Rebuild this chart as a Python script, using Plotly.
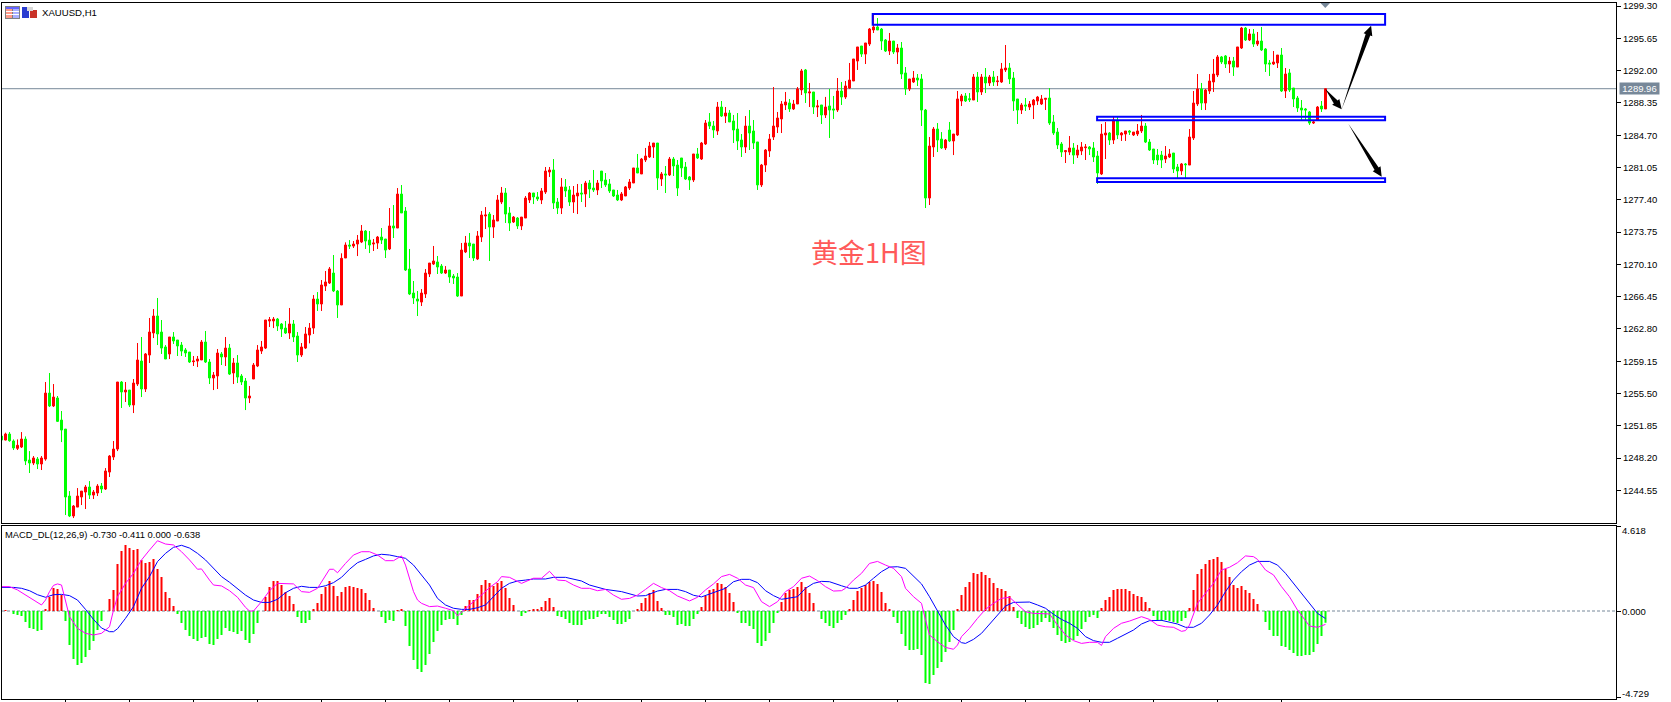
import plotly.graph_objects as go

W, H = 1671, 702
SYMBOL = "XAUUSD,H1"
MACD_LABEL = "MACD_DL(12,26,9) -0.730 -0.411 0.000 -0.638"
CHART_NOTE = "黄金1H图"
LAST_PRICE = 1289.96

opens = [
1250.69,1250.24,1250.92,1250.13,1249.30,1249.45,1250.35,1247.98,1247.64,1248.09,
1247.53,1248.09,1255.55,1254.09,1254.99,1252.50,1251.48,1243.91,1241.65,1242.66,
1243.80,1244.36,1244.93,1244.02,1244.25,1245.04,1244.70,1246.62,1248.32,1249.22,
1256.80,1255.67,1255.89,1254.20,1256.57,1259.17,1256.01,1259.85,1262.34,1264.26,
1262.45,1260.76,1259.97,1261.89,1261.55,1260.98,1260.42,1260.19,1259.10,1259.17,
1259.29,1261.32,1259.06,1257.25,1257.48,1259.97,1259.63,1260.64,1257.82,1258.95,
1257.48,1256.91,1254.99,1257.14,1258.61,1260.30,1260.64,1263.70,1263.70,1263.92,
1263.36,1262.90,1262.34,1263.36,1262.00,1259.85,1260.64,1262.11,1262.90,1266.18,
1265.62,1267.65,1267.99,1269.12,1267.09,1265.51,1270.82,1272.29,1272.17,1272.40,
1272.63,1273.87,1272.85,1272.40,1272.51,1273.19,1272.97,1271.84,1274.44,1274.21,
1278.05,1276.13,1269.57,1266.86,1266.18,1265.84,1266.75,1269.01,1270.14,1270.37,
1269.91,1269.12,1269.46,1268.78,1268.67,1266.52,1271.50,1272.52,1272.40,1270.71,
1273.19,1275.57,1275.79,1274.32,1275.00,1277.15,1278.17,1275.91,1274.89,1275.34,
1274.44,1275.34,1277.38,1278.17,1277.72,1277.38,1278.28,1280.54,1280.77,1277.15,
1276.47,1278.85,1278.51,1277.15,1277.83,1278.17,1278.06,1279.30,1278.73,1278.51,
1280.65,1279.64,1279.19,1278.51,1277.94,1277.38,1277.83,1278.73,1279.30,1281.00,
1280.32,1281.90,1282.24,1283.37,1283.82,1279.75,1280.32,1280.21,1282.01,1281.33,
1282.13,1281.11,1279.98,1279.64,1282.58,1282.01,1283.71,1286.20,1285.74,1285.18,
1287.89,1286.87,1287.21,1286.31,1285.40,1284.16,1283.37,1285.74,1285.18,1283.94,
1279.08,1281.33,1282.92,1284.50,1285.63,1286.54,1288.12,1288.35,1287.67,1288.23,
1289.82,1292.08,1289.48,1289.59,1287.89,1288.12,1286.99,1288.01,1287.67,1287.55,
1289.70,1289.02,1290.04,1290.83,1293.09,1294.79,1293.88,1295.01,1296.60,1296.94,
1296.71,1295.47,1294.22,1295.35,1294.11,1294.56,1291.74,1289.93,1290.72,1291.17,
1291.06,1287.55,1277.60,1283.37,1285.40,1284.27,1283.26,1285.29,1284.05,1284.73,
1288.57,1289.14,1288.83,1288.68,1291.28,1289.59,1291.28,1290.61,1291.28,1290.76,
1290.72,1292.08,1292.30,1291.17,1288.80,1287.55,1288.12,1287.89,1288.12,1288.57,
1288.23,1288.76,1288.91,1286.20,1285.06,1283.71,1282.84,1282.80,1283.26,1282.46,
1282.92,1283.29,1283.37,1283.26,1282.35,1280.32,1284.73,1284.95,1284.16,1286.31,
1284.73,1284.84,1285.18,1284.73,1284.84,1285.18,1285.74,1283.93,1283.14,1282.46,
1282.46,1282.01,1282.24,1282.69,1281.11,1280.66,1281.45,1281.33,1284.39,1288.23,
1289.93,1288.34,1289.70,1290.72,1291.51,1293.55,1293.66,1292.75,1293.09,1292.41,
1294.56,1296.82,1295.47,1296.15,1295.01,1295.35,1294.45,1292.87,1292.75,1292.87,
1293.77,1289.70,1291.74,1290.04,1288.91,1287.78,1287.67,1287.33,1286.08,1286.42,
1288.00,1287.67]

highs = [
1250.76,1251.07,1251.14,1250.31,1250.31,1251.14,1250.65,1248.99,1248.43,1248.32,
1248.43,1256.80,1257.82,1256.57,1255.22,1253.52,1251.48,1244.47,1242.89,1244.81,
1244.47,1245.15,1245.60,1244.59,1245.26,1245.38,1247.07,1248.54,1250.13,1256.80,
1256.91,1256.80,1255.89,1257.14,1261.21,1261.89,1260.08,1264.04,1265.05,1266.30,
1263.81,1260.98,1261.89,1262.45,1261.55,1261.32,1260.64,1260.19,1259.74,1259.74,
1261.55,1262.57,1259.40,1257.93,1260.53,1260.19,1261.89,1261.10,1259.51,1259.85,
1257.70,1257.25,1256.35,1258.95,1260.98,1261.44,1263.81,1264.15,1264.15,1264.04,
1263.47,1263.70,1265.17,1263.81,1262.45,1261.21,1263.02,1263.47,1266.63,1266.97,
1268.33,1269.35,1269.80,1271.16,1267.20,1271.35,1272.59,1272.85,1272.74,1273.42,
1274.55,1273.98,1273.87,1272.97,1273.31,1274.21,1272.97,1276.47,1276.81,1278.73,
1279.07,1276.58,1271.84,1268.22,1267.09,1267.31,1269.57,1270.25,1272.18,1271.05,
1270.14,1269.91,1269.46,1269.01,1269.12,1272.52,1273.31,1273.65,1272.40,1273.87,
1276.13,1276.58,1276.02,1275.68,1277.94,1278.85,1278.73,1276.58,1275.57,1275.45,
1275.45,1277.83,1278.28,1278.17,1278.28,1278.73,1281.11,1281.11,1282.01,1277.60,
1279.86,1279.75,1278.96,1278.96,1279.19,1279.19,1279.53,1279.64,1280.77,1279.64,
1280.65,1280.43,1279.75,1278.51,1278.51,1278.28,1278.96,1279.75,1281.00,1282.58,
1282.13,1283.26,1283.94,1283.82,1283.82,1280.54,1281.22,1282.24,1282.24,1281.90,
1282.13,1281.67,1280.09,1282.58,1283.26,1283.94,1286.42,1287.21,1286.31,1288.46,
1288.57,1287.89,1287.55,1286.99,1287.21,1284.84,1286.87,1287.55,1286.42,1283.94,
1281.45,1283.14,1284.84,1290.15,1287.33,1288.57,1289.59,1288.80,1288.69,1290.15,
1292.19,1292.19,1290.61,1289.59,1288.69,1288.12,1289.03,1289.93,1289.14,1291.17,
1290.72,1290.83,1292.87,1293.32,1294.68,1294.79,1295.13,1296.82,1298.41,1297.95,
1296.82,1295.58,1296.26,1295.35,1295.01,1295.24,1292.41,1291.06,1291.96,1291.62,
1291.62,1287.67,1284.50,1285.63,1286.08,1285.06,1284.27,1286.20,1284.84,1289.70,
1289.36,1289.47,1289.47,1291.62,1291.85,1291.62,1292.30,1291.51,1291.96,1291.40,
1292.87,1294.90,1292.87,1291.85,1288.80,1288.34,1288.91,1288.57,1288.80,1289.14,
1289.25,1288.91,1290.04,1286.99,1285.52,1283.93,1283.03,1284.61,1283.82,1283.60,
1283.93,1283.71,1283.48,1283.93,1282.92,1285.97,1286.20,1285.06,1286.87,1286.76,
1285.06,1285.18,1285.29,1285.06,1285.97,1286.99,1286.08,1284.27,1283.14,1283.14,
1282.92,1283.48,1283.14,1282.69,1281.45,1281.56,1281.56,1285.40,1289.70,1291.62,
1290.61,1289.93,1291.62,1293.32,1293.77,1293.66,1293.77,1293.55,1293.55,1294.68,
1296.94,1296.94,1296.71,1296.71,1296.37,1296.94,1294.56,1293.20,1294.22,1293.77,
1294.56,1292.30,1292.19,1290.04,1289.14,1288.68,1287.78,1287.44,1286.31,1288.00,
1288.57,1289.96]

lows = [
1250.13,1250.20,1250.05,1249.11,1249.11,1249.34,1247.41,1246.51,1247.41,1246.96,
1246.85,1247.90,1253.97,1253.97,1252.28,1250.01,1241.76,1241.53,1241.42,1242.66,
1242.89,1242.44,1243.57,1243.57,1243.91,1244.25,1244.59,1246.06,1247.98,1248.99,
1253.86,1254.54,1253.97,1253.29,1256.35,1255.10,1255.67,1258.95,1261.77,1260.98,
1259.97,1259.40,1259.40,1261.10,1259.74,1259.74,1259.63,1258.95,1258.61,1258.49,
1259.29,1258.95,1256.57,1255.89,1256.01,1258.72,1258.61,1257.59,1256.57,1256.68,
1256.46,1253.63,1254.42,1257.14,1258.49,1259.97,1260.53,1263.02,1262.90,1262.57,
1261.89,1262.23,1261.66,1261.32,1259.06,1259.63,1260.53,1261.17,1262.23,1264.83,
1264.83,1267.09,1267.88,1266.97,1264.04,1265.51,1270.82,1271.84,1271.95,1271.04,
1272.51,1271.84,1271.38,1271.61,1271.84,1272.40,1270.82,1271.72,1273.08,1274.21,
1275.91,1269.35,1266.63,1265.62,1264.26,1265.39,1266.30,1268.67,1270.03,1269.01,
1269.01,1269.01,1268.00,1267.88,1266.41,1266.52,1271.38,1270.82,1270.48,1270.59,
1272.63,1274.10,1270.48,1273.08,1275.00,1276.92,1274.78,1273.87,1274.78,1274.10,
1273.98,1275.34,1277.04,1276.92,1277.26,1276.92,1278.06,1279.98,1276.36,1275.79,
1275.79,1277.72,1276.70,1275.91,1275.79,1277.15,1276.58,1277.60,1278.28,1277.94,
1278.73,1278.85,1278.17,1277.72,1277.26,1277.26,1277.83,1278.51,1279.30,1280.43,
1280.32,1281.67,1282.13,1282.13,1278.51,1278.96,1278.17,1280.09,1280.09,1277.83,
1279.98,1279.64,1278.51,1279.41,1282.01,1281.90,1283.60,1285.40,1284.39,1284.73,
1286.76,1286.08,1286.20,1283.82,1283.03,1282.24,1282.69,1283.03,1283.14,1278.51,
1278.85,1280.54,1282.24,1284.16,1284.95,1284.95,1287.55,1287.33,1287.55,1288.23,
1289.25,1288.35,1287.89,1287.10,1286.76,1285.97,1286.65,1284.39,1286.54,1287.33,
1288.12,1288.80,1289.93,1290.83,1292.08,1293.55,1292.75,1294.79,1296.26,1296.60,
1294.34,1294.11,1293.77,1293.88,1292.75,1291.06,1289.25,1289.70,1290.61,1290.27,
1285.74,1276.47,1276.81,1282.24,1282.80,1283.14,1283.03,1283.93,1282.46,1284.61,
1288.00,1288.46,1288.46,1288.68,1288.46,1289.25,1289.47,1290.27,1290.27,1290.27,
1290.61,1291.85,1290.49,1287.44,1285.97,1287.10,1287.44,1287.55,1286.53,1288.12,
1288.12,1287.55,1285.86,1284.73,1283.14,1282.24,1281.56,1282.46,1281.45,1282.13,
1282.46,1281.90,1282.46,1281.67,1279.19,1280.20,1282.01,1283.60,1283.71,1284.27,
1284.05,1284.05,1284.73,1284.61,1284.61,1284.95,1283.82,1282.92,1281.45,1281.33,
1280.99,1281.56,1282.13,1280.43,1279.86,1280.20,1279.86,1281.33,1284.16,1288.00,
1287.55,1287.55,1289.36,1289.59,1291.28,1292.75,1292.30,1291.74,1291.40,1292.41,
1294.45,1295.35,1295.35,1294.68,1294.79,1294.22,1291.85,1291.40,1292.64,1292.30,
1289.59,1288.91,1289.59,1287.89,1287.33,1286.31,1286.42,1285.86,1285.97,1286.31,
1287.33,1287.67]

closes = [
1250.24,1250.92,1250.16,1249.34,1249.64,1250.35,1247.87,1247.64,1248.21,1247.53,
1248.21,1255.55,1254.09,1255.10,1252.35,1251.37,1243.80,1241.65,1242.78,1243.91,
1244.47,1244.93,1244.02,1244.36,1245.04,1244.70,1246.74,1248.43,1249.22,1256.80,
1255.67,1255.89,1254.20,1256.68,1259.29,1256.01,1259.97,1262.45,1264.26,1262.23,
1260.64,1259.40,1261.89,1261.44,1260.87,1260.30,1260.08,1259.06,1259.17,1259.40,
1261.32,1259.06,1257.25,1257.59,1260.08,1259.63,1260.64,1257.70,1258.95,1257.36,
1256.80,1254.99,1255.22,1258.72,1260.42,1260.76,1263.81,1263.85,1263.92,1263.13,
1262.79,1262.34,1263.36,1261.89,1259.85,1260.76,1262.23,1262.90,1266.18,1265.62,
1267.77,1268.11,1269.58,1267.09,1265.51,1270.78,1272.29,1272.17,1272.40,1272.85,
1273.87,1272.74,1272.29,1272.51,1273.19,1272.85,1271.72,1274.44,1274.21,1278.05,
1275.91,1269.46,1266.75,1266.30,1265.95,1266.86,1269.12,1270.25,1270.48,1269.80,
1269.12,1269.46,1268.67,1268.56,1266.52,1271.72,1272.52,1272.18,1270.82,1273.31,
1275.68,1275.68,1274.32,1275.12,1277.38,1278.17,1275.79,1274.78,1275.45,1274.44,
1275.45,1277.60,1278.17,1277.72,1277.49,1278.40,1280.65,1280.77,1277.04,1276.47,
1278.85,1278.40,1277.15,1277.94,1278.17,1278.06,1279.30,1278.62,1278.51,1279.30,
1279.53,1279.08,1278.40,1277.83,1277.38,1278.06,1278.85,1279.41,1281.00,1280.43,
1282.01,1282.35,1283.48,1283.82,1279.86,1280.32,1280.21,1282.01,1281.22,1278.73,
1281.00,1279.75,1279.64,1282.58,1282.13,1283.82,1286.08,1285.74,1285.29,1287.89,
1286.87,1287.21,1286.20,1285.29,1284.05,1283.37,1285.74,1284.95,1283.82,1279.08,
1281.33,1283.03,1284.27,1285.74,1286.65,1288.23,1288.46,1287.67,1288.23,1289.93,
1291.97,1289.48,1289.59,1287.89,1288.01,1286.99,1287.89,1287.55,1287.55,1289.70,
1289.02,1290.27,1290.94,1293.32,1294.68,1293.88,1295.13,1296.71,1296.94,1296.60,
1295.35,1294.22,1295.35,1294.11,1294.56,1291.62,1289.93,1291.06,1291.17,1290.94,
1287.55,1277.60,1283.48,1285.40,1284.16,1283.26,1284.16,1284.05,1284.84,1288.80,
1289.14,1288.57,1288.72,1291.28,1289.59,1291.28,1290.61,1291.28,1290.72,1290.83,
1292.19,1292.30,1291.06,1288.57,1287.55,1288.12,1288.00,1288.23,1288.68,1289.02,
1288.80,1288.87,1286.08,1284.95,1283.60,1282.80,1282.95,1283.26,1282.46,1283.03,
1283.37,1283.37,1283.14,1282.24,1280.43,1284.84,1284.95,1284.16,1286.42,1284.73,
1284.95,1285.18,1285.06,1285.06,1285.18,1285.74,1283.93,1283.03,1281.90,1281.90,
1281.90,1282.35,1282.58,1280.88,1280.66,1281.45,1281.37,1284.50,1288.34,1289.93,
1288.34,1289.81,1290.83,1291.62,1293.55,1292.98,1292.75,1293.09,1292.41,1294.68,
1296.82,1295.47,1296.15,1295.01,1295.35,1294.34,1292.75,1292.75,1292.98,1293.77,
1289.70,1291.62,1289.81,1288.80,1287.78,1287.55,1287.55,1286.08,1286.20,1287.89,
1287.67,1289.96]

histogram = [
0,.05,0,-.16,-.22,-.27,-.60,-.93,-.98,-1.09,
-1.04,.11,.77,1.26,1.20,.87,-.55,-1.86,-2.62,-2.95,
-2.84,-2.51,-2.13,-1.64,-1.04,-.55,0,.66,1.15,2.57,
3.28,3.61,3.44,3.33,3.39,2.79,2.62,2.68,2.84,2.30,
1.86,1.04,.71,.27,-.16,-.66,-1.04,-1.37,-1.53,-1.64,
-1.48,-1.42,-1.80,-1.86,-1.53,-1.31,-.93,-1.09,-1.15,-1.26,
-1.09,-1.58,-1.75,-1.26,-.66,0,.77,1.31,1.64,1.64,
1.42,1.04,.82,.38,-.33,-.66,-.66,-.49,.11,.44,
.93,1.31,1.64,1.37,.82,1.04,1.31,1.37,1.31,1.26,
1.20,.98,.60,.16,0,-.33,-.66,-.49,-.55,.05,
.11,-.82,-1.91,-2.68,-3.17,-3.33,-2.95,-2.35,-1.69,-1.09,
-.77,-.49,-.44,-.44,-.77,-.22,.27,.60,.60,.93,
1.42,1.69,1.53,1.37,1.53,1.64,1.26,.71,.33,0,
-.27,-.11,.05,.11,.11,.22,.55,.71,.22,-.27,
-.33,-.44,-.66,-.77,-.77,-.77,-.49,-.44,-.44,-.33,
-.16,-.16,-.33,-.49,-.71,-.71,-.60,-.44,0,.11,
.44,.71,.98,1.15,.55,.16,-.22,-.22,-.33,-.77,
-.71,-.82,-.82,-.44,-.16,.22,.82,1.15,1.20,1.53,
1.48,1.31,.98,.49,-.11,-.66,-.66,-.82,-.98,-1.75,
-1.91,-1.64,-1.20,-.66,-.11,.49,.98,1.15,1.20,1.31,
1.58,1.31,.98,.44,0,-.44,-.66,-.82,-.93,-.66,
-.49,-.22,.11,.60,1.09,1.26,1.42,1.58,1.64,1.48,
1.04,.44,.11,-.33,-.66,-1.26,-1.91,-2.13,-2.13,-2.08,
-2.40,-3.93,-3.99,-3.50,-3.11,-2.79,-2.24,-1.69,-1.04,.11,
.87,1.31,1.58,2.08,2.02,2.13,1.97,1.80,1.53,1.26,
1.20,1.09,.82,.22,-.38,-.71,-.87,-.98,-.93,-.77,
-.60,-.38,-.60,-.93,-1.31,-1.64,-1.75,-1.69,-1.58,-1.37,
-.98,-.60,-.33,-.22,-.38,.16,.60,.77,1.15,1.20,
1.20,1.20,1.09,.93,.82,.77,.49,.16,-.27,-.49,
-.55,-.49,-.55,-.60,-.66,-.55,-.38,.16,1.15,2.02,
2.30,2.57,2.79,2.84,2.95,2.68,2.30,1.86,1.42,1.26,
1.37,1.15,.98,.66,.38,0,-.60,-1.04,-1.37,-1.37,
-1.91,-1.97,-2.13,-2.30,-2.46,-2.46,-2.40,-2.40,-2.24,-1.80,
-1.37,-.638]

signal_bars = [
0,3,5,7,9,11,13,15,17,19,21,23,25,27,28,29,31,33,35,37,39,41,43,45,47,49,51,53,55,57,59,61,63,65,67,69,71,73,75,77,
79,81,83,85,87,89,91,93,95,97,99,101,103,105,107,109,111,113,115,117,119,121,123,125,127,129,131,133,136,138,141,143,
145,147,149,151,155,159,161,164,166,169,171,173,175,177,179,181,183,185,187,189,191,193,195,197,199,201,203,205,207,
210,212,214,216,218,220,222,224,226,228,230,232,234,236,238,240,241,243,245,247,249,251,253,257,259,261,263,265,267,
269,271,273,275,277,279,281,283,285,287,290,292,294,296,298,300,302,304,306,308,310,312,314,317,319,321,323,325,327,329,331]
signal_line = [
1.29,1.29,1.24,1.11,.89,.75,.89,.91,.84,.60,.09,-.46,-.93,-1.13,-1.13,-.97,-.40,.24,1.24,1.88,2.70,3.15,3.48,3.59,3.44,3.15,2.79,2.33,1.88,1.57,1.24,.87,.60,.47,.47,.64,1.00,1.24,1.35,1.29,
1.29,1.38,1.55,1.84,2.28,2.64,2.82,3.01,3.10,3.06,2.97,2.88,2.51,1.97,1.42,.69,.33,.15,.09,.09,.18,.33,.78,1.24,1.51,1.64,1.69,1.75,1.75,1.84,1.84,1.73,
1.64,1.42,1.28,1.18,1.06,.82,.84,1.09,1.18,1.18,1.06,.86,.77,.93,1.11,1.24,1.60,1.73,1.73,1.55,1.11,.84,.64,.69,.78,1.24,1.51,1.62,1.60,
1.38,1.24,1.24,1.42,1.79,2.15,2.40,2.42,2.33,1.88,1.48,.78,.02,-.77,-1.40,-1.73,-1.77,-1.55,-1.22,-.71,-.22,.27,.47,.49,.33,.15,-.18,-.46,-.67,
-.95,-1.40,-1.62,-1.71,-1.71,-1.49,-1.28,-1.04,-.71,-.53,-.51,-.60,-.71,-.89,-.89,-.67,-.22,.33,1.06,1.69,2.15,2.51,2.71,2.71,2.51,2.06,1.51,.97,.42,-.13,-.41]

macd_bars = [
0,2,4,6,8,10,11,12,13,14,15,16,17,19,21,23,25,27,28,29,31,33,35,37,39,41,43,45,47,49,50,52,53,55,57,59,61,62,63,65,
67,69,71,73,75,77,79,81,82,83,84,86,88,90,92,94,96,98,100,101,103,104,105,107,109,111,113,114,116,118,120,122,124,125,
127,129,130,133,135,137,139,141,143,145,147,149,151,153,155,157,159,161,163,165,167,169,172,174,176,178,180,182,184,186,188,
190,192,194,196,198,200,202,204,206,208,210,211,213,215,217,219,221,223,225,226,228,230,231,232,234,236,238,239,240,242,244,
246,248,250,252,254,256,258,260,262,264,266,268,270,272,274,275,276,278,280,282,284,285,287,289,291,293,295,296,297,299,301,
303,305,307,309,311,313,314,316,318,320,322,324,326,327,329,331]
macd_line = [
1.33,1.33,1.15,.87,.60,.33,.60,1.06,1.40,1.48,1.42,.60,-.31,-.95,-1.22,-1.31,-1.22,-.86,.05,.78,1.51,2.06,2.79,3.33,3.84,3.66,3.61,3.24,2.79,2.28,2.30,1.69,1.42,1.37,1.11,.75,.20,0,0,.51,
1.11,1.51,1.51,1.48,1.06,1.02,1.24,1.97,2.28,2.28,2.09,2.60,3.06,3.24,3.24,3.06,2.75,2.75,3.01,2.51,1.06,.60,.42,.24,.27,.15,.02,-.26,.15,.51,.87,1.28,1.60,1.88,
1.84,1.64,1.51,1.79,1.79,2.17,1.69,1.66,1.42,1.24,1.24,1.11,1.18,.87,.64,.69,.87,1.18,1.51,1.28,1.11,.82,.55,.75,1.15,1.48,1.88,2.00,1.79,1.42,1.28,
.51,.24,.51,1.06,1.33,1.79,1.91,1.66,1.33,1.09,1.11,1.24,1.69,2.06,2.60,2.71,2.51,2.33,1.88,1.24,.78,.42,-.49,-1.31,-1.68,-1.99,-2.09,-1.86,-1.40,-.95,-.40,
.09,.42,.69,.75,.33,-.04,-.13,-.16,-.16,-.77,-1.31,-1.62,-1.77,-1.71,-1.71,-1.88,-1.40,-.95,-.67,-.55,-.40,-.31,-.46,-.77,-.86,-.89,-1.11,-1.07,-.77,.42,.97,
1.51,2.24,2.39,2.64,3.01,2.97,2.82,2.24,1.97,1.33,.78,.05,-.49,-.82,-.89,-.73]

price_ticks = [1299.30,1295.65,1292.00,1288.35,1284.70,1281.05,1277.40,1273.75,
               1270.10,1266.45,1262.80,1259.15,1255.50,1251.85,1248.20,1244.55]
macd_ticks = [4.618, 0.0, -4.729]
time_ticks = list(range(16, 321, 16))

# support and resistance zones: left bar, right bar, upper price, lower price
zones = [
    (217.8, 345.9, 1298.41, 1297.20),
    (273.9, 345.9, 1286.80, 1286.40),
    (273.9, 345.9, 1279.83, 1279.41),
]
# drawn arrows: start bar, start price, end bar, end price
arrows = [
    (330.9, 1289.96, 335.05, 1287.63),
    (335.05, 1287.63, 342.4, 1297.08),
    (336.7, 1286.00, 345.05, 1280.01),
]

RED, GREEN, GREY = "#ff0000", "#00ff00", "#778899"
FONT = "Liberation Sans"
PX_PER_BAR, PX_PER_DOLLAR = 4.0, 8.845


def px(x):
    return x / W


def py(y):
    return 1 - y / H


def arrow_path(b0, p0, b1, p1):
    # tapered shaft with a solid head, sized in screen pixels
    dx = (b1 - b0) * PX_PER_BAR
    dy = -(p1 - p0) * PX_PER_DOLLAR
    length = (dx * dx + dy * dy) ** 0.5
    ux, uy = dx / length, dy / length
    nx, ny = -uy, ux
    head, shaft, wing = 9.5, 2.4, 4.6

    def pt(along, side):
        sx = along * ux + side * nx
        sy = along * uy + side * ny
        return f"{b0 + sx / PX_PER_BAR:.3f},{p0 - sy / PX_PER_DOLLAR:.3f}"

    a = length - head
    return ("M" + pt(0, 0) + " L" + pt(a, shaft) + " L" + pt(a, wing) + " L" + pt(length, 0)
            + " L" + pt(a, -wing) + " L" + pt(a, -shaft) + " Z")


bars = list(range(len(opens)))
assert len(opens) == len(highs) == len(lows) == len(closes) == len(histogram) == 332
assert len(signal_bars) == len(signal_line) and len(macd_bars) == len(macd_line)

fig = go.Figure()
fig.add_trace(go.Candlestick(
    x=bars, open=opens, high=highs, low=lows, close=closes,
    xaxis="x", yaxis="y", whiskerwidth=0,
    increasing=dict(line=dict(color=RED, width=1), fillcolor=RED),
    decreasing=dict(line=dict(color=GREEN, width=1), fillcolor=GREEN),
    hoverinfo="skip",
))
fig.add_trace(go.Bar(
    x=bars, y=histogram, xaxis="x2", yaxis="y2", width=0.5,
    marker=dict(color=["rgba(255,0,0,0.999)" if v >= 0 else "rgba(0,255,0,0.999)" for v in histogram],
                line=dict(width=0)),
    hoverinfo="skip",
))
fig.add_trace(go.Scatter(x=signal_bars, y=signal_line, xaxis="x2", yaxis="y2", mode="lines",
                         line=dict(color="#0000ff", width=1), hoverinfo="skip"))
fig.add_trace(go.Scatter(x=macd_bars, y=macd_line, xaxis="x2", yaxis="y2", mode="lines",
                         line=dict(color="#ff00ff", width=1), hoverinfo="skip"))

shapes = [
    dict(type="line", xref="x domain", yref="y", x0=0, x1=1, y0=LAST_PRICE, y1=LAST_PRICE,
         line=dict(color=GREY, width=1), layer="below"),
    dict(type="line", xref="x2 domain", yref="y2", x0=0, x1=1, y0=0, y1=0,
         line=dict(color=GREY, width=1, dash="3px,2px"), layer="below"),
    # marker for the current bar on the top edge
    dict(type="path", xref="paper", yref="paper", fillcolor=GREY, line=dict(width=0),
         path=f"M{px(1320.5)},{py(3)} L{px(1330)},{py(3)} L{px(1325.3)},{py(8)} Z"),
]
for b0, b1, top, bottom in zones:
    shapes.append(dict(type="rect", xref="x", yref="y", x0=b0, x1=b1, y0=bottom, y1=top,
                       line=dict(color="#0000ff", width=2), fillcolor="rgba(0,0,0,0)"))
for a in arrows:
    shapes.append(dict(type="path", xref="x", yref="y", path=arrow_path(*a),
                       fillcolor="#000000", line=dict(width=0)))


def icon_rect(x0, y0, x1, y1, color):
    shapes.append(dict(type="rect", xref="paper", yref="paper", x0=px(x0), x1=px(x1),
                       y0=py(y1), y1=py(y0), fillcolor=color, line=dict(width=0)))


# chart-window icons next to the symbol name
icon_rect(5, 6, 20, 19, "#808080")
icon_rect(6, 7, 19, 9, "#6464ff")
icon_rect(6, 9, 12, 18, "#ff9a8a")
icon_rect(13, 9, 19, 18, "#aab0ff")
for yy in (11, 14):
    icon_rect(6, yy, 19, yy + 1, "#ffffff")
icon_rect(22, 7, 29, 18, "#2a3cd0")
icon_rect(30, 10, 37, 18, "#c83228")
icon_rect(27, 7, 33, 11, "#d8d8d8")

annotations = [
    dict(xref="paper", yref="paper", x=px(39.5), y=py(12.7), text=SYMBOL, showarrow=False,
         xanchor="left", yanchor="middle", font=dict(family=FONT, size=9.6, color="#000000")),
    dict(xref="paper", yref="paper", x=px(2.5), y=py(534.3), text=MACD_LABEL, showarrow=False,
         xanchor="left", yanchor="middle", font=dict(family=FONT, size=9.4, color="#000000")),
    dict(xref="paper", yref="paper", x=px(869), y=py(251.5), text=CHART_NOTE, showarrow=False,
         xanchor="center", yanchor="middle", font=dict(family="Noto Sans CJK SC", size=27, color="#ff5a5a")),
    dict(xref="paper", yref="y", x=px(1619), y=LAST_PRICE, text=f"{LAST_PRICE:.2f}", showarrow=False,
         xanchor="left", yanchor="middle", width=39, height=11, borderpad=0, bgcolor=GREY,
         font=dict(family=FONT, size=9.5, color="#ffffff")),
]
for value, label, yy in zip(macd_ticks, ["4.618", "0.000", "-4.729"], [530.7, 611, 693.7]):
    annotations.append(dict(xref="paper", yref="paper", x=px(1619.5), y=py(yy), text=label, showarrow=False,
                            xanchor="left", yanchor="middle", font=dict(family=FONT, size=9.5, color="#000000")))

axis_common = dict(showgrid=False, zeroline=False, showline=True, mirror=True,
                   linecolor="#000000", linewidth=1)
fig.update_layout(
    width=W, height=H, autosize=False, margin=dict(l=0, r=0, t=0, b=0, pad=0, autoexpand=False),
    paper_bgcolor="#ffffff", plot_bgcolor="#ffffff", showlegend=False, hovermode=False,
    boxgap=0.5, boxgroupgap=0, bargap=0.5, shapes=shapes, annotations=annotations,
    xaxis=dict(domain=[2 / W, 1616 / W], range=[0.125, 403.625], anchor="y",
               rangeslider=dict(visible=False), showticklabels=False, ticks="", **axis_common),
    yaxis=dict(domain=[1 - 523 / H, 1 - 3 / H], range=[1240.86, 1299.65], anchor="x", side="right",
               tickmode="array", tickvals=price_ticks, ticktext=[f"{v:.2f}" for v in price_ticks],
               ticks="outside", ticklen=4, tickcolor="#000000", tickwidth=1,
               tickfont=dict(family=FONT, size=9.5, color="#000000"), **axis_common),
    xaxis2=dict(domain=[2 / W, 1616 / W], range=[0.125, 403.625], anchor="y2",
                tickmode="array", tickvals=time_ticks, ticktext=["" for _ in time_ticks],
                ticks="outside", ticklen=3, tickcolor="#000000", tickwidth=1, **axis_common),
    yaxis2=dict(domain=[1 - 698.5 / H, 1 - 526 / H], range=[-4.781, 4.645], anchor="x2", side="right",
                tickmode="array", tickvals=macd_ticks, ticktext=["", "", ""],
                ticks="outside", ticklen=4, tickcolor="#000000", tickwidth=1, **axis_common),
)

fig.write_html("out.html", config=dict(displayModeBar=False))
